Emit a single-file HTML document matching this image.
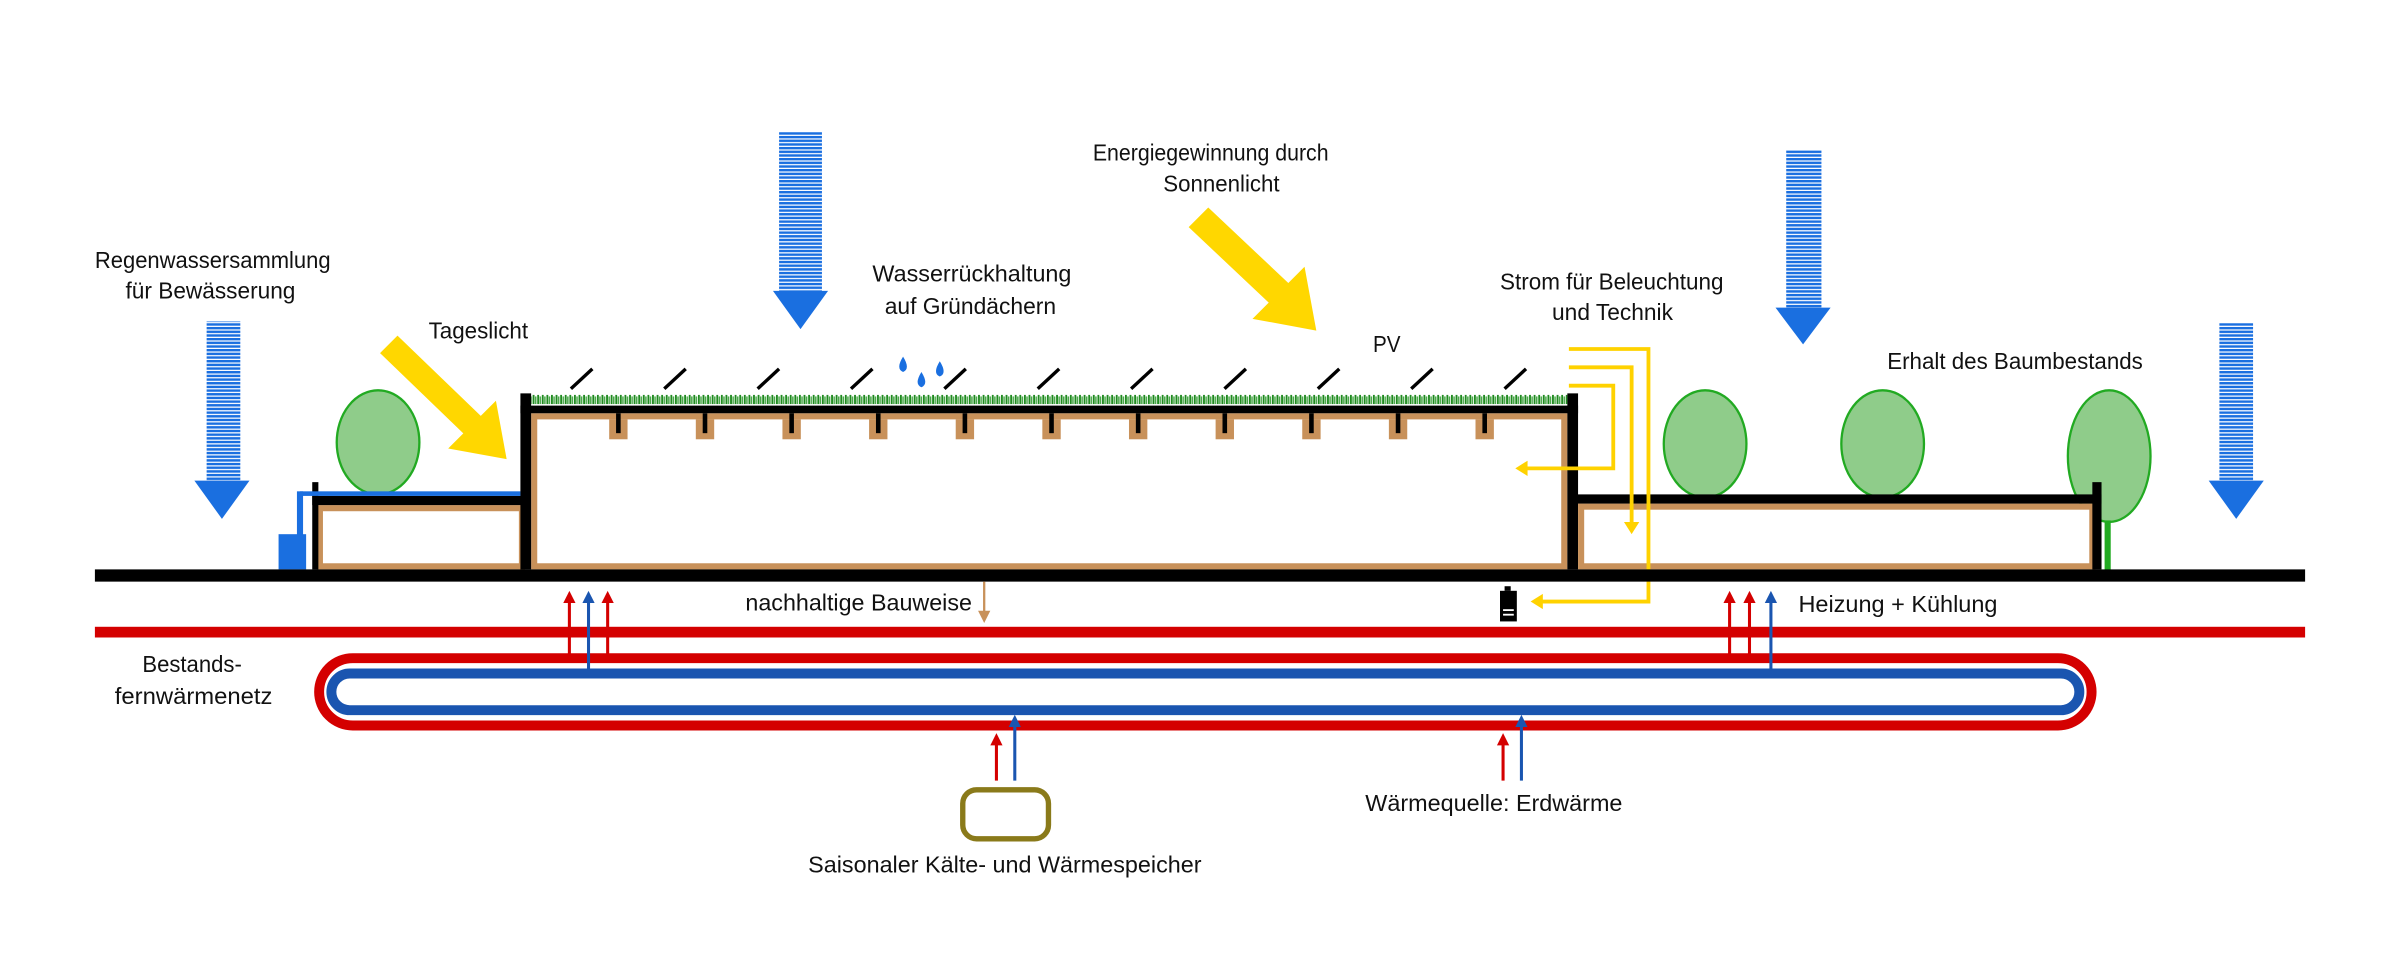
<!DOCTYPE html>
<html><head><meta charset="utf-8"><style>
html,body{margin:0;padding:0;background:#fff;}
svg{display:block;}
text{font-family:"Liberation Sans",sans-serif;font-size:15px;fill:#111;}
</style></head><body>
<svg width="2400" height="975" viewBox="0 0 1568 637" preserveAspectRatio="none" xmlns="http://www.w3.org/2000/svg">
<defs>
<pattern id="rain" patternUnits="userSpaceOnUse" width="10" height="2.4"><rect x="0" y="0" width="10" height="1.6" fill="#1a6fe0"/></pattern>
<pattern id="grass" patternUnits="userSpaceOnUse" width="3" height="8"><rect x="0" y="1" width="1.2" height="7" fill="#1f8a1f"/><rect x="1.5" y="3" width="1" height="5" fill="#4aa84a"/></pattern>
</defs>
<rect width="1568" height="637" fill="#fff"/>

<!-- rain arrows -->
<rect x="135" y="210" width="22" height="104" fill="url(#rain)"/>
<polygon points="127,314 163,314 145,339" fill="#1a6fe0"/>
<rect x="509" y="86" width="28" height="104" fill="url(#rain)"/>
<polygon points="505,190 541,190 523,215" fill="#1a6fe0"/>
<rect x="1167" y="98" width="23" height="103" fill="url(#rain)"/>
<polygon points="1160,201 1196,201 1178,225" fill="#1a6fe0"/>
<rect x="1450" y="211" width="22" height="103" fill="url(#rain)"/>
<polygon points="1443,314 1479,314 1461,339" fill="#1a6fe0"/>

<!-- yellow sun arrows -->
<polygon points="776.6,148.4 828.9,197.7 818.3,208.3 860,216 852.3,174.3 841.7,184.9 789.4,135.6" fill="#ffd700"/>
<polygon points="248.3,230.7 302.7,283.1 292.8,293 331,300 324,261.8 314.1,271.7 259.7,219.3" fill="#ffd700"/>

<!-- trees -->
<ellipse cx="247" cy="289" rx="27" ry="34" fill="#8fcc8a" stroke="#22aa22" stroke-width="1.5"/>
<ellipse cx="1114" cy="290" rx="27" ry="35" fill="#8fcc8a" stroke="#22aa22" stroke-width="1.5"/>
<ellipse cx="1230" cy="290" rx="27" ry="35" fill="#8fcc8a" stroke="#22aa22" stroke-width="1.5"/>
<ellipse cx="1378" cy="298" rx="27" ry="43" fill="#8fcc8a" stroke="#22aa22" stroke-width="1.5"/>
<rect x="1375" y="340" width="4" height="33" fill="#22aa22"/>

<!-- small left building -->
<rect x="207" y="330" width="136" height="42" fill="#c8915a"/>
<rect x="211" y="334" width="128" height="34" fill="#fff"/>
<rect x="204" y="324" width="139" height="6" fill="#000"/>
<rect x="204" y="315" width="4" height="57" fill="#000"/>
<rect x="196" y="321" width="144" height="3" fill="#1a6fe0"/>
<rect x="194" y="321" width="4" height="30" fill="#1a6fe0"/>
<rect x="182" y="349" width="18" height="23" fill="#1a6fe0"/>

<!-- main building -->
<rect x="347" y="270" width="677" height="102" fill="#c8915a"/>
<rect x="351" y="274" width="669" height="94" fill="#fff"/>
<rect x="347" y="258" width="677" height="7" fill="url(#grass)"/>
<rect x="340" y="265" width="691" height="5" fill="#000"/>
<rect x="340" y="257" width="7" height="115" fill="#000"/>
<rect x="1024" y="257" width="7" height="115" fill="#000"/>
<g fill="#c8915a">
<rect x="398" y="274" width="12" height="13"/><rect x="454.6" y="274" width="12" height="13"/><rect x="511.2" y="274" width="12" height="13"/><rect x="567.8" y="274" width="12" height="13"/><rect x="624.4" y="274" width="12" height="13"/><rect x="681" y="274" width="12" height="13"/><rect x="737.6" y="274" width="12" height="13"/><rect x="794.2" y="274" width="12" height="13"/><rect x="850.8" y="274" width="12" height="13"/><rect x="907.4" y="274" width="12" height="13"/><rect x="964" y="274" width="12" height="13"/>
</g>
<g fill="#000">
<rect x="402.5" y="270" width="3" height="13"/><rect x="459.1" y="270" width="3" height="13"/><rect x="515.7" y="270" width="3" height="13"/><rect x="572.3" y="270" width="3" height="13"/><rect x="628.9" y="270" width="3" height="13"/><rect x="685.5" y="270" width="3" height="13"/><rect x="742.1" y="270" width="3" height="13"/><rect x="798.7" y="270" width="3" height="13"/><rect x="855.3" y="270" width="3" height="13"/><rect x="911.9" y="270" width="3" height="13"/><rect x="968.5" y="270" width="3" height="13"/>
</g>
<!-- PV panels -->
<g stroke="#000" stroke-width="2.2">
<line x1="373" y1="254" x2="387" y2="241"/><line x1="434" y1="254" x2="448" y2="241"/><line x1="495" y1="254" x2="509" y2="241"/><line x1="556" y1="254" x2="570" y2="241"/><line x1="617" y1="254" x2="631" y2="241"/><line x1="678" y1="254" x2="692" y2="241"/><line x1="739" y1="254" x2="753" y2="241"/><line x1="800" y1="254" x2="814" y2="241"/><line x1="861" y1="254" x2="875" y2="241"/><line x1="922" y1="254" x2="936" y2="241"/><line x1="983" y1="254" x2="997" y2="241"/>
</g>
<!-- droplets -->
<g fill="#1a6fe0">
<path d="M590,233 q-5,8 0,10 q5,-2 0,-10z"/><path d="M602,243 q-5,8 0,10 q5,-2 0,-10z"/><path d="M614,236 q-5,8 0,10 q5,-2 0,-10z"/>
</g>

<!-- right building -->
<rect x="1031" y="329" width="338" height="43" fill="#c8915a"/>
<rect x="1035" y="333" width="330" height="35" fill="#fff"/>
<rect x="1027" y="323" width="346" height="6" fill="#000"/>
<rect x="1367" y="315" width="6" height="57" fill="#000"/>

<!-- yellow power lines -->
<g stroke="#ffd200" stroke-width="2.5" fill="none">
<polyline points="1025,228 1077,228 1077,393 1006,393"/>
<polyline points="1025,240 1066,240 1066,343"/>
<polyline points="1025,252 1054,252 1054,306 996,306"/>
</g>
<polygon points="1061,341 1071,341 1066,349" fill="#ffd200"/>
<polygon points="998,301 998,311 990,306" fill="#ffd200"/>
<polygon points="1008,388 1008,398 1000,393" fill="#ffd200"/>

<!-- ground -->
<rect x="62" y="372" width="1444" height="8" fill="#000"/>
<!-- battery -->
<rect x="983" y="383" width="4" height="3" fill="#000"/>
<rect x="980" y="386" width="11" height="20" fill="#000"/>
<rect x="982" y="398" width="7" height="1.2" fill="#fff"/><rect x="982" y="401" width="7" height="1.2" fill="#fff"/>
<!-- brown arrow -->
<line x1="643" y1="380" x2="643" y2="400" stroke="#c8915a" stroke-width="1.5"/>
<polygon points="639,399 647,399 643,407" fill="#c8915a"/>

<!-- red line -->
<rect x="62" y="409.5" width="1444" height="7" fill="#d40000"/>
<!-- loop -->
<rect x="208.5" y="430" width="1158" height="44" rx="22" fill="none" stroke="#d40000" stroke-width="6.5"/>
<rect x="216.5" y="440" width="1142" height="24" rx="12" fill="none" stroke="#1a55b0" stroke-width="6.5"/>

<!-- heat arrows -->
<g stroke-width="2">
<line x1="372" y1="428" x2="372" y2="392" stroke="#d40000"/><line x1="397" y1="428" x2="397" y2="392" stroke="#d40000"/><line x1="384.5" y1="438" x2="384.5" y2="392" stroke="#1a55b0"/>
<line x1="1130" y1="428" x2="1130" y2="392" stroke="#d40000"/><line x1="1143" y1="428" x2="1143" y2="392" stroke="#d40000"/><line x1="1157" y1="438" x2="1157" y2="392" stroke="#1a55b0"/>
<line x1="651" y1="510" x2="651" y2="485" stroke="#d40000"/><line x1="663" y1="510" x2="663" y2="473" stroke="#1a55b0"/>
<line x1="982" y1="510" x2="982" y2="485" stroke="#d40000"/><line x1="994" y1="510" x2="994" y2="473" stroke="#1a55b0"/>
</g>
<g fill="#d40000">
<polygon points="368,394 376,394 372,386"/><polygon points="393,394 401,394 397,386"/>
<polygon points="1126,394 1134,394 1130,386"/><polygon points="1139,394 1147,394 1143,386"/>
<polygon points="647,487 655,487 651,479"/><polygon points="978,487 986,487 982,479"/>
</g>
<g fill="#1a55b0">
<polygon points="380.5,394 388.5,394 384.5,386"/><polygon points="1153,394 1161,394 1157,386"/>
<polygon points="659,475 667,475 663,467"/><polygon points="990,475 998,475 994,467"/>
</g>
<!-- storage -->
<rect x="629" y="516" width="56" height="32" rx="9" fill="#fff" stroke="#8a7a1a" stroke-width="3.5"/>

<!-- texts -->
<text x="62" y="175" textLength="154" lengthAdjust="spacingAndGlyphs">Regenwassersammlung</text>
<text x="82" y="195" textLength="111" lengthAdjust="spacingAndGlyphs">für Bewässerung</text>
<text x="280" y="221" textLength="65" lengthAdjust="spacingAndGlyphs">Tageslicht</text>
<text x="570" y="184" textLength="130" lengthAdjust="spacingAndGlyphs">Wasserrückhaltung</text>
<text x="578" y="205" textLength="112" lengthAdjust="spacingAndGlyphs">auf Gründächern</text>
<text x="714" y="105" textLength="154" lengthAdjust="spacingAndGlyphs">Energiegewinnung durch</text>
<text x="760" y="125" textLength="76" lengthAdjust="spacingAndGlyphs">Sonnenlicht</text>
<text x="897" y="230" textLength="18" lengthAdjust="spacingAndGlyphs">PV</text>
<text x="980" y="189" textLength="146" lengthAdjust="spacingAndGlyphs">Strom für Beleuchtung</text>
<text x="1014" y="209" textLength="79" lengthAdjust="spacingAndGlyphs">und Technik</text>
<text x="1233" y="241" textLength="167" lengthAdjust="spacingAndGlyphs">Erhalt des Baumbestands</text>
<text x="487" y="399" textLength="148" lengthAdjust="spacingAndGlyphs">nachhaltige Bauweise</text>
<text x="1175" y="400" textLength="130" lengthAdjust="spacingAndGlyphs">Heizung + Kühlung</text>
<text x="93" y="439" textLength="65" lengthAdjust="spacingAndGlyphs">Bestands-</text>
<text x="75" y="460" textLength="103" lengthAdjust="spacingAndGlyphs">fernwärmenetz</text>
<text x="892" y="530" textLength="168" lengthAdjust="spacingAndGlyphs">Wärmequelle: Erdwärme</text>
<text x="528" y="570" textLength="257" lengthAdjust="spacingAndGlyphs">Saisonaler Kälte- und Wärmespeicher</text>
</svg>
</body></html>
